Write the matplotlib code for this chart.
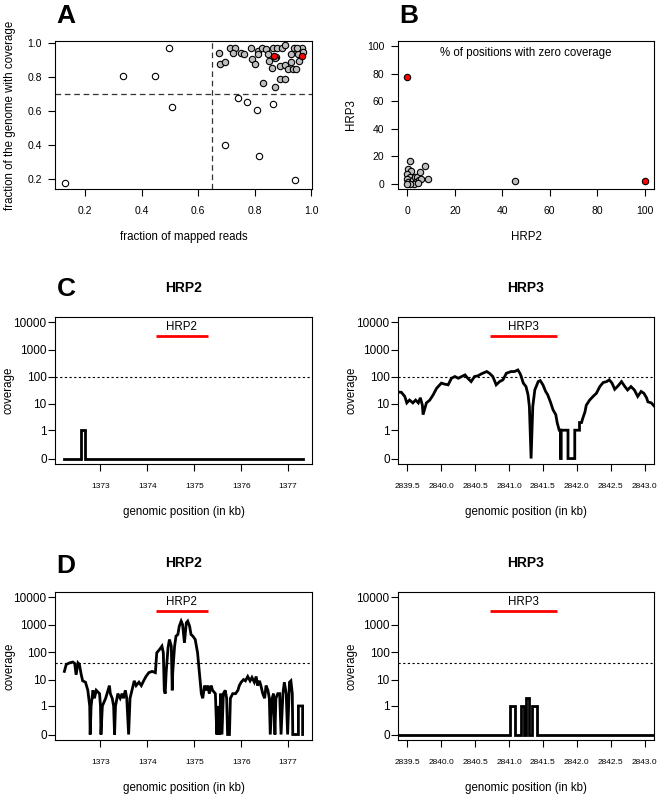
import matplotlib
matplotlib.use("Agg")
import matplotlib.pyplot as plt
import numpy as np

plt.rcParams['font.family'] = ['Liberation Sans', 'DejaVu Sans']

W, H = 660, 799

# ---- panel A: fraction mapped reads vs fraction genome covered
a_open_x = [0.13, 0.334, 0.447, 0.498, 0.508, 0.694, 0.741, 0.774, 0.806, 0.814, 0.865, 0.942]
a_open_y = [0.175, 0.802, 0.802, 0.971, 0.622, 0.402, 0.676, 0.653, 0.604, 0.333, 0.643, 0.192]
a_gray_x = [0.673, 0.676, 0.696, 0.712, 0.729, 0.724, 0.751, 0.762, 0.786, 0.79, 0.80,
            0.812, 0.812, 0.826, 0.841, 0.847, 0.849, 0.859, 0.865, 0.876, 0.88, 0.888,
            0.896, 0.908, 0.908, 0.918, 0.927, 0.927, 0.935, 0.939, 0.946, 0.951, 0.955,
            0.965, 0.97, 0.829, 0.873, 0.888, 0.908, 0.95, 0.872]
a_gray_y = [0.941, 0.873, 0.885, 0.971, 0.971, 0.937, 0.941, 0.931, 0.971, 0.906, 0.873,
            0.951, 0.931, 0.971, 0.961, 0.931, 0.892, 0.853, 0.971, 0.916, 0.971, 0.863,
            0.971, 0.984, 0.867, 0.843, 0.886, 0.931, 0.843, 0.971, 0.847, 0.931, 0.892,
            0.971, 0.945, 0.765, 0.739, 0.784, 0.784, 0.971, 0.912]
a_red_x = [0.867, 0.968]
a_red_y = [0.922, 0.922]

# ---- panel B: % positions with zero coverage
b_gray_x = [45.5, 1.0, 0.3, 1.4, 0.0, 1.0, 0.0, 0.3, 1.7, 2.4, 3.1, 4.2, 5.2, 7.3, 8.7,
            3.8, 4.8, 5.9, 2.8, 1.0, 4.5, 0.0]
b_gray_y = [1.7, 16.4, 10.8, 9.0, 7.1, 5.1, 3.4, 1.0, 1.0, 2.7, 4.6, 5.1, 8.3, 12.5, 3.4,
            1.0, 2.7, 3.4, 0.0, 0.0, 0.3, 0.0]
b_red_x = [0.0, 100.0]
b_red_y = [78.0, 1.5]

# ---- panel C: coverage
c2_pos = [1372.23, 1372.59, 1372.59, 1372.67, 1372.67, 1377.31]
c2_cov = [0, 0, 1, 1, 0, 0]

c3_pos = [2839.30, 2839.41, 2839.46, 2839.49, 2839.53, 2839.58, 2839.62, 2839.66, 2839.69,
          2839.72, 2839.73, 2839.78, 2839.83, 2839.88, 2839.93, 2840.00, 2840.05, 2840.10,
          2840.15, 2840.20, 2840.25, 2840.30, 2840.35, 2840.39, 2840.44, 2840.49, 2840.54,
          2840.59, 2840.67, 2840.71, 2840.76, 2840.81, 2840.86, 2840.91, 2840.96, 2841.03,
          2841.08, 2841.13, 2841.16, 2841.18, 2841.21, 2841.25, 2841.28, 2841.30, 2841.325,
          2841.35, 2841.38, 2841.43, 2841.46, 2841.50, 2841.54, 2841.57, 2841.61, 2841.65,
          2841.69, 2841.71, 2841.74, 2841.76, 2841.76, 2841.77, 2841.77, 2841.87, 2841.87,
          2841.97, 2841.97, 2842.04, 2842.04, 2842.07, 2842.09, 2842.12, 2842.14, 2842.19,
          2842.24, 2842.29, 2842.34, 2842.39, 2842.44, 2842.48, 2842.52, 2842.56, 2842.61,
          2842.66, 2842.71, 2842.75, 2842.80, 2842.85, 2842.90, 2842.95, 2842.99, 2843.03,
          2843.05, 2843.10, 2843.15, 2843.20]
c3_cov = [29, 27, 19, 11, 14, 11, 14, 11, 17,
          9, 4, 11, 14, 22, 38, 59, 54, 51,
          89, 103, 89, 103, 118, 89, 67, 103, 109,
          129, 157, 136, 103, 51, 67, 78, 136, 157,
          157, 180, 136, 103, 59, 44, 22, 8, 0,
          8, 33, 67, 73, 51, 29, 22, 12, 6,
          4, 2, 1, 1, 0, 0, 1, 1, 0,
          0, 1, 1, 2, 2, 3, 5, 9, 14,
          19, 25, 44, 62, 67, 78, 59, 35, 47,
          67, 44, 33, 44, 33, 19, 29, 25, 17,
          12, 11, 8, 8]

# ---- panel D: coverage
d2_pos = [1372.23, 1372.27, 1372.34, 1372.41, 1372.45, 1372.48, 1372.52, 1372.55, 1372.59,
          1372.62, 1372.68, 1372.73, 1372.77, 1372.78, 1372.80, 1372.84, 1372.87, 1372.91,
          1372.98, 1373.00, 1373.01, 1373.04, 1373.11, 1373.16, 1373.19, 1373.21, 1373.25,
          1373.28, 1373.30, 1373.32, 1373.37, 1373.42, 1373.46, 1373.49, 1373.53, 1373.56,
          1373.60, 1373.63, 1373.67, 1373.72, 1373.76, 1373.82, 1373.87, 1373.92, 1373.97,
          1374.03, 1374.10, 1374.17, 1374.20, 1374.26, 1374.31, 1374.34, 1374.36, 1374.38,
          1374.40, 1374.44, 1374.47, 1374.51, 1374.53, 1374.54, 1374.58, 1374.61, 1374.65,
          1374.68, 1374.72, 1374.75, 1374.79, 1374.83, 1374.86, 1374.90, 1374.93, 1374.97,
          1375.02, 1375.07, 1375.11, 1375.15, 1375.18, 1375.22, 1375.25, 1375.29, 1375.32,
          1375.36, 1375.39, 1375.45, 1375.48, 1375.50, 1375.54, 1375.56, 1375.59, 1375.62,
          1375.66, 1375.69, 1375.71, 1375.75, 1375.77, 1375.82, 1375.88, 1375.93, 1375.96,
          1376.00, 1376.05, 1376.09, 1376.14, 1376.19, 1376.23, 1376.28, 1376.32, 1376.35,
          1376.39, 1376.42, 1376.46, 1376.50, 1376.53, 1376.57, 1376.60, 1376.62, 1376.66,
          1376.69, 1376.72, 1376.74, 1376.78, 1376.82, 1376.85, 1376.89, 1376.92, 1376.96,
          1376.99, 1377.03, 1377.06, 1377.09, 1377.10, 1377.22, 1377.22, 1377.31, 1377.31]
d2_cov = [20, 36, 41, 44, 39, 15, 41, 36, 15,
          9, 8, 4, 1, 0, 1, 4, 2, 4,
          3, 1, 0, 1, 2, 4, 6, 3, 2,
          1, 0, 1, 3, 2, 3, 2, 4, 2,
          0, 2, 4, 9, 6, 8, 6, 9, 13,
          18, 20, 18, 96, 127, 167, 96, 4, 3,
          18, 146, 293, 167, 4, 18, 167, 388, 447,
          900, 1370, 1035, 221, 1190, 1370, 900, 447, 388,
          293, 96, 18, 3, 2, 6, 4, 6, 3,
          6, 4, 3, 0, 1, 0, 3, 0, 3,
          4, 2, 0, 0, 2, 3, 3, 4, 6,
          8, 10, 9, 13, 9, 12, 8, 13, 6,
          9, 6, 3, 2, 6, 4, 2, 0, 2,
          3, 0, 2, 3, 3, 0, 3, 8, 3,
          0, 8, 9, 3, 0, 0, 1, 1, 0]

d3_pos = [2839.30, 2841.02, 2841.09, 2841.17, 2841.22, 2841.25, 2841.30, 2841.34, 2841.41, 2843.20]
d3_cov = [0, 1, 0, 1, 0, 2, 0, 1, 0, 0]

gene_span = {'HRP2': (1374.18, 1375.29), 'HRP3': (2840.72, 2841.71)}
cov_ticks = [0, 1, 10, 100, 1000, 10000]
c_thresh = 100
d_thresh = 40


def fwd(v):
    v = np.asarray(v, dtype=float)
    return np.log10(np.clip(v + 0.1, 1e-9, None)) + 1


def inv(t):
    return 10 ** (np.asarray(t, dtype=float) - 1) - 0.1


fig = plt.figure(figsize=(W / 100, H / 100), dpi=100)


def px_axes(l, t, r, b):
    return fig.add_axes([l / W, 1 - b / H, (r - l) / W, (b - t) / H])


def style(ax, xsize=7.5, ysize=7.5, xpad=7, ypad=4.3):
    for s in ax.spines.values():
        s.set_linewidth(0.8)
    ax.tick_params(axis='both', direction='out', length=5, width=0.8)
    ax.tick_params(axis='x', labelsize=xsize, pad=xpad)
    ax.tick_params(axis='y', labelsize=ysize, pad=ypad)


def labels(ax, xl, yl, ylx):
    ax.set_xlabel(xl, fontsize=8.3, va='center')
    ax.xaxis.set_label_coords(0.5, -48 / 148)
    ax.set_ylabel(yl, fontsize=8.3, va='center')
    ax.yaxis.set_label_coords(ylx, 0.5)


def letter(x, y, s):
    fig.text(x / W, 1 - y / H, s, fontsize=19, fontweight='bold', ha='center', va='center')


# ---- A
axA = px_axes(55, 41, 312, 189)
axA.axvline(0.65, color='#333333', lw=0.9, dashes=(4.5, 3))
axA.axhline(0.70, color='#333333', lw=0.9, dashes=(4.5, 3))
axA.scatter(a_open_x, a_open_y, s=21, facecolor='white', edgecolor='black', lw=0.8, zorder=3)
axA.scatter(a_gray_x, a_gray_y, s=21, facecolor='#bebebe', edgecolor='black', lw=0.8, zorder=3)
axA.scatter(a_red_x, a_red_y, s=21, facecolor='red', edgecolor='black', lw=0.8, zorder=4)
axA.set_xlim(0.094, 1.002)
axA.set_ylim(0.141, 1.01)
axA.set_xticks([0.2, 0.4, 0.6, 0.8, 1.0])
axA.set_yticks([0.2, 0.4, 0.6, 0.8, 1.0])
style(axA)
labels(axA, 'fraction of mapped reads', 'fraction of the genome with coverage', -45 / 257)
letter(66, 16, 'A')

# ---- B
axB = px_axes(398, 41, 654, 189)
axB.scatter(b_gray_x, b_gray_y, s=21, facecolor='#bebebe', edgecolor='black', lw=0.8, zorder=3)
axB.scatter(b_red_x, b_red_y, s=21, facecolor='red', edgecolor='black', lw=0.8, zorder=4)
axB.set_xlim(-4, 104)
axB.set_ylim(-4, 104)
axB.set_xticks([0, 20, 40, 60, 80, 100])
axB.set_yticks([0, 20, 40, 60, 80, 100])
axB.text(50, 95.6, '% of positions with zero coverage', fontsize=8.3, ha='center', va='center')
style(axB, ypad=4.8)
labels(axB, 'HRP2', 'HRP3', -47 / 256)
letter(409, 16, 'B')


def cov_panel(ax, pos, cov, gene, xlim, xticks, xticklabels, thresh, steps=False):
    ax.set_yscale('function', functions=(fwd, inv))
    ax.axhline(thresh, color='black', lw=0.8, dashes=(2, 2.2))
    ax.plot(pos, cov, color='black', lw=2.0, drawstyle='steps-post' if steps else 'default',
            solid_joinstyle='miter')
    g0, g1 = gene_span[gene]
    ax.plot([g0, g1], [3160, 3160], color='red', lw=2.0, solid_capstyle='butt')
    ax.text((g0 + g1) / 2, 6900, gene, fontsize=8.3, ha='center', va='center')
    ax.set_xlim(*xlim)
    ax.set_ylim(inv(-0.2), inv(5.2))
    ax.set_yticks(cov_ticks, labels=[str(v) for v in cov_ticks])
    ax.set_xticks(xticks, labels=xticklabels)
    style(ax, xsize=6, ysize=8.5, xpad=8.5, ypad=1)
    ax.text(0.5, 1 + 29 / 147, gene, transform=ax.transAxes, fontsize=10, fontweight='bold',
            ha='center', va='center')


hrp2_xlim = (1372.03, 1377.51)
hrp2_ticks = [1373, 1374, 1375, 1376, 1377]
hrp2_lbls = ['1373', '1374', '1375', '1376', '1377']
hrp3_xlim = (2839.36, 2843.14)
hrp3_ticks = [2839.5, 2840.0, 2840.5, 2841.0, 2841.5, 2842.0, 2842.5, 2843.0]
hrp3_lbls = ['%.1f' % v for v in hrp3_ticks]

axC1 = px_axes(55, 317, 312, 464)
cov_panel(axC1, c2_pos, c2_cov, 'HRP2', hrp2_xlim, hrp2_ticks, hrp2_lbls, c_thresh)
labels(axC1, 'genomic position (in kb)', 'coverage', -46 / 257)
axC2 = px_axes(398, 317, 654, 464)
cov_panel(axC2, c3_pos, c3_cov, 'HRP3', hrp3_xlim, hrp3_ticks, hrp3_lbls, c_thresh)
labels(axC2, 'genomic position (in kb)', 'coverage', -47 / 256)
letter(66, 289, 'C')

axD1 = px_axes(55, 592, 312, 740)
cov_panel(axD1, d2_pos, d2_cov, 'HRP2', hrp2_xlim, hrp2_ticks, hrp2_lbls, d_thresh)
labels(axD1, 'genomic position (in kb)', 'coverage', -45 / 257)
axD2 = px_axes(398, 592, 654, 740)
cov_panel(axD2, d3_pos, d3_cov, 'HRP3', hrp3_xlim, hrp3_ticks, hrp3_lbls, d_thresh, steps=True)
labels(axD2, 'genomic position (in kb)', 'coverage', -47 / 256)
letter(66, 566, 'D')

fig.savefig('out.png', dpi=100)
